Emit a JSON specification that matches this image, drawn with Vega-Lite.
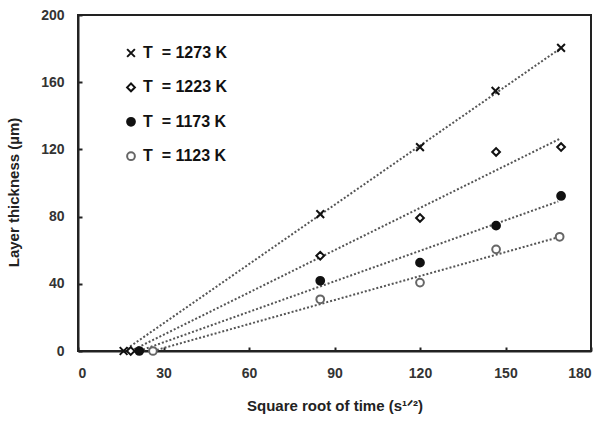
{
  "$schema": "https://vega.github.io/schema/vega-lite/v6.json",
  "width": 513,
  "height": 336,
  "autosize": {"type": "none"},
  "padding": {"left": 78, "top": 15, "right": 10, "bottom": 73},
  "background": "white",
  "config": {
    "font": "Liberation Sans",
    "view": {"stroke": "#222", "strokeWidth": 2},
    "axis": {
      "domainColor": "#222",
      "domainWidth": 2,
      "tickColor": "#222",
      "tickWidth": 2,
      "tickSize": -4,
      "grid": false,
      "labelFont": "Liberation Sans",
      "labelFontWeight": "bold",
      "labelFontSize": 14,
      "labelColor": "#333",
      "titleFont": "Liberation Sans",
      "titleFontWeight": "bold",
      "titleFontSize": 15,
      "titleColor": "#222"
    }
  },
  "datasets": {
    "pts": [
      {"x": 16, "y": 0, "s": "T\u00a0 = 1273 K"},
      {"x": 85, "y": 81.5, "s": "T\u00a0 = 1273 K"},
      {"x": 120, "y": 121.4, "s": "T\u00a0 = 1273 K"},
      {"x": 146.5, "y": 154.8, "s": "T\u00a0 = 1273 K"},
      {"x": 169.5, "y": 180.4, "s": "T\u00a0 = 1273 K"},
      {"x": 18.5, "y": 0, "s": "T\u00a0 = 1223 K"},
      {"x": 85, "y": 56.7, "s": "T\u00a0 = 1223 K"},
      {"x": 120, "y": 79.2, "s": "T\u00a0 = 1223 K"},
      {"x": 146.7, "y": 118.5, "s": "T\u00a0 = 1223 K"},
      {"x": 169.5, "y": 121.4, "s": "T\u00a0 = 1223 K"},
      {"x": 21.5, "y": 0, "s": "T\u00a0 = 1173 K"},
      {"x": 85, "y": 41.8, "s": "T\u00a0 = 1173 K"},
      {"x": 120, "y": 52.6, "s": "T\u00a0 = 1173 K"},
      {"x": 146.7, "y": 74.6, "s": "T\u00a0 = 1173 K"},
      {"x": 169.5, "y": 92.3, "s": "T\u00a0 = 1173 K"},
      {"x": 26.3, "y": 0, "s": "T\u00a0 = 1123 K"},
      {"x": 85, "y": 30.8, "s": "T\u00a0 = 1123 K"},
      {"x": 120, "y": 40.7, "s": "T\u00a0 = 1123 K"},
      {"x": 146.7, "y": 60.5, "s": "T\u00a0 = 1123 K"},
      {"x": 169, "y": 68, "s": "T\u00a0 = 1123 K"}
    ],
    "fits": [
      {"x": 16, "y": 0, "s": "1273"},
      {"x": 169.5, "y": 180.4, "s": "1273"},
      {"x": 18.5, "y": 0, "s": "1223"},
      {"x": 169.4, "y": 126.6, "s": "1223"},
      {"x": 21.5, "y": 0, "s": "1173"},
      {"x": 168.5, "y": 89, "s": "1173"},
      {"x": 26.3, "y": 0, "s": "1123"},
      {"x": 167.7, "y": 67.3, "s": "1123"}
    ]
  },
  "layer": [
    {
      "data": {"name": "fits"},
      "mark": {"type": "line", "strokeDash": [2, 2], "strokeWidth": 2, "color": "#555"},
      "encoding": {
        "x": {"field": "x", "type": "quantitative"},
        "y": {"field": "y", "type": "quantitative"},
        "detail": {"field": "s"}
      }
    },
    {
      "data": {"name": "pts"},
      "mark": {"type": "point", "strokeWidth": 2, "opacity": 1},
      "encoding": {
        "x": {
          "field": "x", "type": "quantitative",
          "scale": {"domain": [0, 180], "nice": false},
          "axis": {"values": [0, 30, 60, 90, 120, 150, 180], "title": "Square root of time (s¹ᐟ²)", "labelPadding": 19, "titlePadding": 18}
        },
        "y": {
          "field": "y", "type": "quantitative",
          "scale": {"domain": [0, 200], "nice": false},
          "axis": {"values": [0, 40, 80, 120, 160, 200], "title": "Layer thickness (µm)", "labelPadding": 18, "titlePadding": 19, "titleY": 177}
        },
        "shape": {
          "field": "s", "type": "nominal",
          "scale": {
            "domain": ["T\u00a0 = 1273 K", "T\u00a0 = 1223 K", "T\u00a0 = 1173 K", "T\u00a0 = 1123 K"],
            "range": ["M-1,-1L1,1M-1,1L1,-1", "diamond", "circle", "circle"]
          },
          "legend": {
            "title": null, "orient": "none", "legendX": 45, "legendY": 30,
            "labelFont": "Liberation Sans", "labelFontWeight": "bold", "labelFontSize": 16, "labelColor": "#111",
            "symbolSize": 60, "symbolStrokeWidth": 2, "rowPadding": 18.4, "labelOffset": 4, "padding": 0
          }
        },
        "fill": {
          "field": "s", "type": "nominal",
          "scale": {
            "domain": ["T\u00a0 = 1273 K", "T\u00a0 = 1223 K", "T\u00a0 = 1173 K", "T\u00a0 = 1123 K"],
            "range": ["transparent", "white", "#111", "white"]
          },
          "legend": null
        },
        "stroke": {
          "field": "s", "type": "nominal",
          "scale": {
            "domain": ["T\u00a0 = 1273 K", "T\u00a0 = 1223 K", "T\u00a0 = 1173 K", "T\u00a0 = 1123 K"],
            "range": ["#111", "#111", "#111", "#666"]
          },
          "legend": null
        },
        "size": {"value": 60}
      }
    }
  ]
}
